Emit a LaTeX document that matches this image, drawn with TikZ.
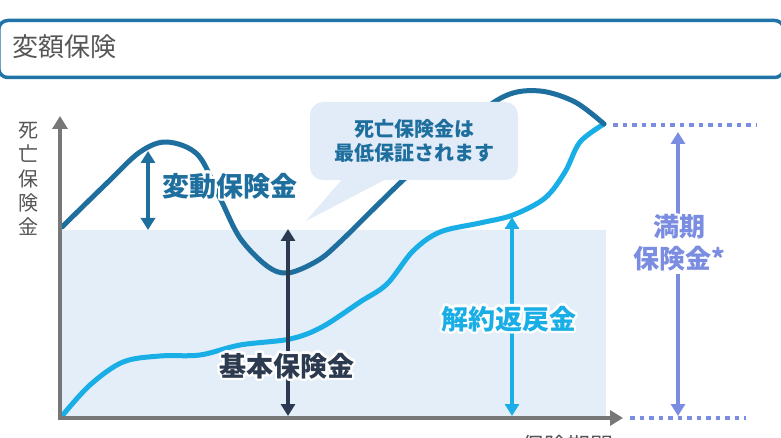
\documentclass[tikz,border=0pt]{standalone}
\usepackage{fontspec}
\setmainfont{Noto Sans CJK JP}
\usepackage[copies]{contour}
\contourlength{2.2pt}
\contournumber{24}
\usetikzlibrary{arrows.meta}
\definecolor{cTeal}{HTML}{1E6E9E}
\definecolor{cLight}{HTML}{1AAEE6}
\definecolor{cNavy}{HTML}{2B3A4E}
\definecolor{cLav}{HTML}{7B8DE0}
\definecolor{cAxis}{HTML}{777777}
\definecolor{cShade}{HTML}{E4EEF9}
\definecolor{cBubble}{HTML}{E1ECF8}
\definecolor{cTitle}{HTML}{2074A8}
\definecolor{cGrayText}{HTML}{555555}
\tikzset{
  curve/.style={line width=5pt, line cap=round, line join=round},
  dimarrow/.style={line width=4pt, {Triangle[width=14pt,length=12pt]}-{Triangle[width=14pt,length=12pt]}},
  axisline/.style={line width=4.5pt, draw=cAxis, -{Triangle[width=15pt,length=13pt]}},
  dotline/.style={line width=4.5pt, draw=cLav, dash pattern=on 4.5pt off 5pt},
  biglabel/.style={font=\bfseries\fontsize{27}{31}\selectfont, inner sep=0pt, align=center},
}
\begin{document}
\begin{tikzpicture}[x=1pt,y=-1pt]
\useasboundingbox (0,0) rectangle (781,438);
\fill[white] (0,0) rectangle (781,438);

% title
\node[draw=cTitle, line width=3.5pt, rounded corners=9pt, minimum width=785pt, minimum height=57pt, inner sep=0pt, anchor=west] (titlebox) at (-3,49) {};
\node[anchor=west, text=cGrayText, font=\fontsize{26}{30}\selectfont, inner sep=0pt] (title) at (12,47) {変額保険};

% shaded area
\fill[cShade] (62,230) rectangle (606,418);

% coordinates
\coordinate (o) at (60,420);
\coordinate (ytip) at (60,116);
\coordinate (xtip) at (623,418);

% bubble tail
\fill[cBubble] (345,176) -- (306,221) -- (392,176) -- cycle;

% surrender value curve
\draw[curve, cLight] plot[smooth, tension=0.55] coordinates {(62,416) (90,385) (123,362) (160,356) (200,355) (240,345) (290,339) (322,327) (360,302) (387,284) (413,251) (440,232) (480,223) (513,215) (545,198) (565,172) (580,142) (604,124)};

% death benefit curve
\draw[curve, cTeal] plot[smooth, tension=0.55] coordinates {(62,227) (107,183) (140,152) (167,142) (198,155) (220,198) (240,238) (267,266) (288,273) (317,261) (340,242) (400,183) (460,128) (505,96) (540,91) (575,102) (604,124)};

% bubble
\node[fill=cBubble, rounded corners=13pt, minimum width=208pt, minimum height=78pt, inner sep=0pt, align=center, text=cTeal, font=\bfseries\fontsize{20}{24.5}\selectfont] (bubble) at (414,141) {死亡保険金は\\最低保証されます};

% axes
\draw[axisline] (o) -- (ytip);
\draw[axisline] (58,418) -- (xtip);

% dotted lines
\coordinate (d1a) at (613,125); \coordinate (d1b) at (756,125);
\coordinate (d2a) at (630,418); \coordinate (d2b) at (746,418);
\draw[dotline] (d1a) -- (d1b);
\draw[dotline] (d2a) -- (d2b);

% dimension arrows
\coordinate (v1) at (148,151); \coordinate (v2) at (148,230);
\draw[dimarrow, cTeal] (v1) -- (v2);
\coordinate (b1) at (288,229); \coordinate (b2) at (288,416);
\draw[dimarrow, cNavy] (b1) -- (b2);
\coordinate (s1) at (512,217); \coordinate (s2) at (512,416);
\draw[dimarrow, cLight] (s1) -- (s2);
\coordinate (m1) at (678,132); \coordinate (m2) at (678,416);
\draw[dimarrow, cLav] (m1) -- (m2);

% labels
\node[biglabel, text=cTeal] (hendo) at (230,187) {\contour{white}{変動保険金}};
\node[biglabel, text=cNavy] (kihon) at (287,367) {\contour{white}{基本保険金}};
\node[biglabel, text=cLight] (kaiyaku) at (509,320) {\contour{white}{解約返戻金}};
\node[biglabel, text=cLav, fill=white, font=\bfseries\fontsize{26}{32}\selectfont] (manki) at (679,244) {\contour{white}{満期}\\\contour{white}{保険金*}};

% axis labels
\node[text=cGrayText, font=\fontsize{20}{24.3}\selectfont, align=center, inner sep=0pt] (ylab) at (28,179) {死\\亡\\保\\険\\金};
\node[text=cGrayText, font=\fontsize{23}{26}\selectfont, inner sep=0pt, anchor=west] (xlab) at (521,446) {保険期間};
\end{tikzpicture}
\end{document}
